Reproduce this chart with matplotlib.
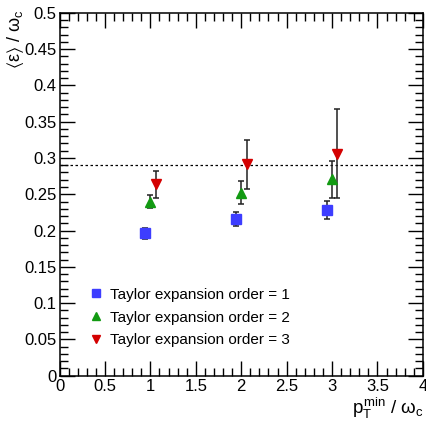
import numpy as np
import matplotlib.pyplot as plt
from matplotlib.ticker import MultipleLocator

plt.rcParams['font.family'] = ['Liberation Sans', 'DejaVu Sans']
plt.rcParams['mathtext.fontset'] = 'custom'
plt.rcParams['mathtext.rm'] = 'Liberation Sans'
plt.rcParams['mathtext.it'] = 'Liberation Sans'
plt.rcParams['mathtext.fallback'] = 'stixsans'

# mean energy fraction vs. minimum pT, for each expansion order
pt_min = np.array([1.0, 2.0, 3.0])
order1 = [0.196, 0.216, 0.228]
order1_err = [0.008, 0.010, 0.0125]
order2 = [0.240, 0.252, 0.2705]
order2_err = [0.009, 0.016, 0.025]
order3 = [0.264, 0.291, 0.306]
order3_err = [0.0185, 0.034, 0.061]
ref_line = 0.29

fig = plt.figure(figsize=(4.26, 4.26), dpi=100)
ax = fig.add_axes([0.1397, 0.118, 0.853, 0.852])

ax.axhline(ref_line, color='black', ls=(0, (2, 2)), lw=0.9, zorder=1)

shift = 0.06
series = [
    (pt_min - shift, order1, order1_err, 's', '#3d3dff', 'Taylor expansion order = 1'),
    (pt_min, order2, order2_err, '^', '#129a12', 'Taylor expansion order = 2'),
    (pt_min + shift, order3, order3_err, 'v', '#d40000', 'Taylor expansion order = 3'),
]
for x, y, err, mk, col, lab in series:
    ax.errorbar(x, y, yerr=err, fmt='none', ecolor='#222222',
                elinewidth=1.1, capsize=2.5, capthick=1.1, zorder=2)
    ax.plot(x, y, mk, ms=6.5, color=col, ls='none', label=lab, zorder=3)

ax.set_xlim(0, 4)
ax.set_ylim(0, 0.5)
ax.xaxis.set_major_locator(MultipleLocator(0.5))
ax.xaxis.set_minor_locator(MultipleLocator(0.1))
ax.yaxis.set_major_locator(MultipleLocator(0.05))
ax.yaxis.set_minor_locator(MultipleLocator(0.01))
ax.xaxis.set_major_formatter(lambda v, p: f'{v:g}')
ax.yaxis.set_major_formatter(lambda v, p: f'{v:g}')

ax.tick_params(which='both', direction='in', top=True, right=True,
               labelsize=12, width=1.0)
ax.tick_params(which='major', length=11, pad=2)
ax.tick_params(which='minor', length=5.5)
for s in ax.spines.values():
    s.set_linewidth(1.1)

ax.set_xlabel(r'$p_{T}^{min}\ /\ \omega_{c}$', fontsize=13.5, loc='right')
ax.xaxis.set_label_coords(1.0, -0.055)
ax.set_ylabel(r'$\langle\varepsilon\rangle\ /\ \omega_{c}$', fontsize=13,
              loc='top')
ax.yaxis.set_label_coords(-0.093, 1.008)

leg = ax.legend(loc='lower left', bbox_to_anchor=(0.068, 0.061), frameon=False,
                fontsize=11, handlelength=0.8, handletextpad=0.5,
                labelspacing=0.58, borderaxespad=0, markerscale=0.9)

fig.savefig('out.png', dpi=100)
